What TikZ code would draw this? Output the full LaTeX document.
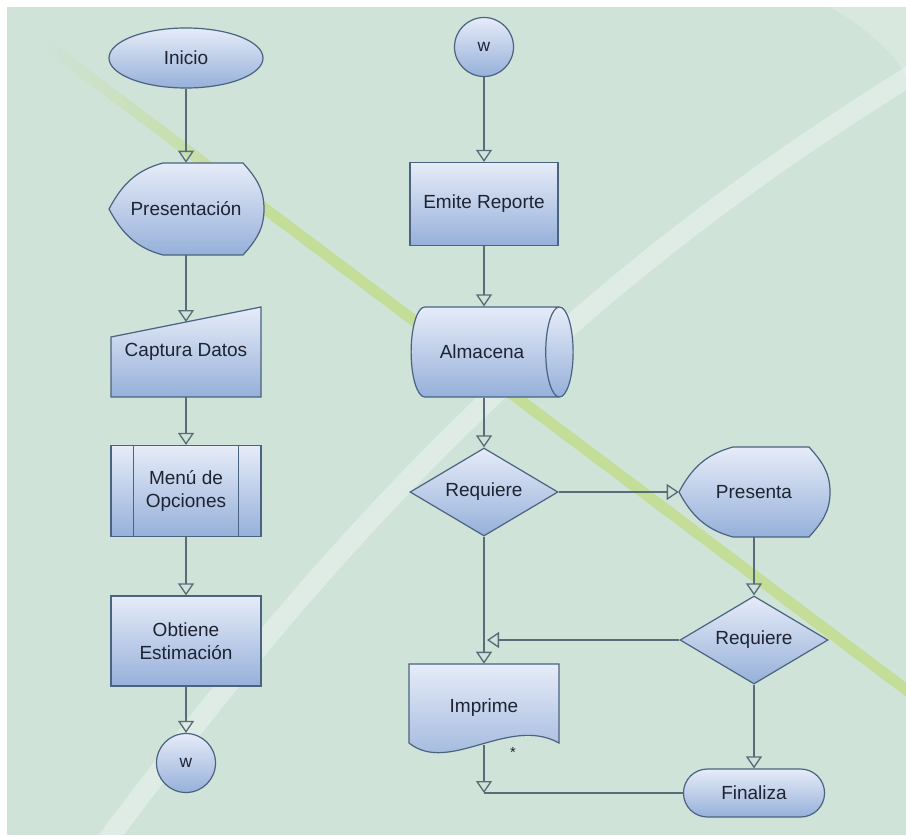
\documentclass[tikz,border=0pt]{standalone}
\usepackage{fontspec}
\setmainfont{Liberation Sans}
\usetikzlibrary{shapes.geometric,shapes.misc,arrows.meta,calc}

\definecolor{fondo}{RGB}{207,227,216}
\definecolor{verde}{RGB}{196,221,152}
\definecolor{borde}{RGB}{74,99,128}
\definecolor{gris}{RGB}{88,108,122}
\definecolor{sup}{RGB}{230,236,248}
\definecolor{inf}{RGB}{150,176,218}
\definecolor{texto}{RGB}{30,35,50}
\def\pxu{0.75pt}

\begin{document}
\begin{tikzpicture}[x=0.75pt,y=-0.75pt,
  font=\fontsize{14.25}{17.25}\selectfont, text=texto,
  forma/.style={draw=borde,line width=0.9pt,top color=sup,bottom color=inf},
  caja/.style={rectangle,inner sep=0pt,align=center,minimum width=150*\pxu},
  proceso/.style={forma,rectangle,align=center,minimum width=150*\pxu,minimum height=90*\pxu},
  decision/.style={forma,diamond,shape aspect=1.68,inner sep=0pt,minimum width=148*\pxu,minimum height=88*\pxu},
  salto/.style={forma,circle,minimum size=59*\pxu,font=\fontsize{13}{15}\selectfont},
  enlace/.style={draw=gris,line width=1pt},
  flecha/.style={enlace,-{Triangle[open,length=9pt,width=12pt]}}]

\useasboundingbox (0,0) rectangle (906,835);
\fill[fondo] (7,7) rectangle (906,835);
\draw[white,opacity=0.35,line width=20*\pxu] (100,850) .. controls (330,540) and (560,290) .. (920,70);
\fill[white,opacity=0.2] (830,7) .. controls (870,30) and (895,55) .. (906,75) -- (906,7) -- cycle;
\shade[left color=fondo,right color=verde] (40,33) -- (250,190.5) -- (250,204.5) -- (40,47) -- cycle;
\fill[verde] (250,190.5) -- (906,682.5) -- (906,696.5) -- (250,204.5) -- cycle;

\node[forma,ellipse,inner sep=0pt,minimum width=154*\pxu,minimum height=60*\pxu] (ini) at (186,58) {Inicio};
\draw[forma] (109,209) to[out=62,in=195] (163,163) -- (243,163) to[out=-48,in=90] (264,209)
  to[out=-90,in=48] (243,255) -- (163,255) to[out=165,in=-62] cycle;
\node[caja,minimum height=92*\pxu] (pres) at (186,209) {Presentación};
\draw[forma] (111,337) -- (261,307) -- (261,397) -- (111,397) -- cycle;
\node[caja,minimum height=90*\pxu] (cap) at (186,352) {Captura Datos};
\coordinate (capin) at (186,322);
\node[proceso,minimum height=91*\pxu] (men) at (186,491) {Menú de\\Opciones};
\draw[borde,line width=0.9pt] ($(men.north west)+(23,0)$) -- ($(men.south west)+(23,0)$);
\draw[borde,line width=0.9pt] ($(men.north east)+(-23,0)$) -- ($(men.south east)+(-23,0)$);
\node[proceso] (obt) at (186,641) {Obtiene\\Estimación};
\node[salto] (wizq) at (186,763) {w};

\node[salto] (wder) at (484,47) {w};
\node[proceso,minimum width=148*\pxu,minimum height=83*\pxu] (emi) at (484,204) {Emite Reporte};
\node[forma,cylinder,shape aspect=1.2,minimum width=90*\pxu,minimum height=162*\pxu] (alm) at (482,352) {Almacena};
\node[decision] (req1) at (484,492) {Requiere};
\draw[forma] (679,492) to[out=62,in=195] (733,447) -- (809,447) to[out=-48,in=90] (830,492)
  to[out=-90,in=48] (809,537) -- (733,537) to[out=165,in=-62] cycle;
\node[caja,minimum height=90*\pxu] (pres2) at (754,492) {Presenta};
\node[decision] (req2) at (754,640) {Requiere};
\draw[forma] (409,664) -- (559,664) -- (559,743) .. controls (509,715) and (449,775) .. (409,743) -- cycle;
\node[caja,minimum height=88*\pxu] (imp) at (484,708) {Imprime};
\node[font=\fontsize{11}{13}\selectfont] (nota) at (513,752) {*};
\node[forma,rounded rectangle,minimum width=150*\pxu,minimum height=48*\pxu] (fin) at (754,793) {Finaliza};

\coordinate (impb) at ($(imp.south)+(0,-7)$);
\coordinate (cruce) at ($(req1.south |- req2.west)+(3,0)$);
\coordinate (junta) at (req1.south |- fin.west);

\draw[flecha] (ini.south) -- (pres.north);
\draw[flecha] (pres.south) -- (capin);
\draw[flecha] (cap.south) -- (men.north);
\draw[flecha] (men.south) -- (obt.north);
\draw[flecha] (obt.south) -- (wizq.north);
\draw[flecha] (wder.south) -- (emi.north);
\draw[flecha] (emi.south) -- (emi.south |- alm.north);
\draw[flecha] (req1.north |- alm.south) -- (req1.north);
\draw[flecha] (req1.east) -- (pres2.west);
\draw[flecha] (pres2.south) -- (req2.north);
\draw[flecha] (req1.south) -- (imp.north);
\draw[flecha] (req2.west) -- (cruce);
\draw[flecha] (req2.south) -- (fin.north);
\draw[flecha] (impb) -- (junta);
\draw[enlace] (fin.west) -- (junta);

\end{tikzpicture}
\end{document}
